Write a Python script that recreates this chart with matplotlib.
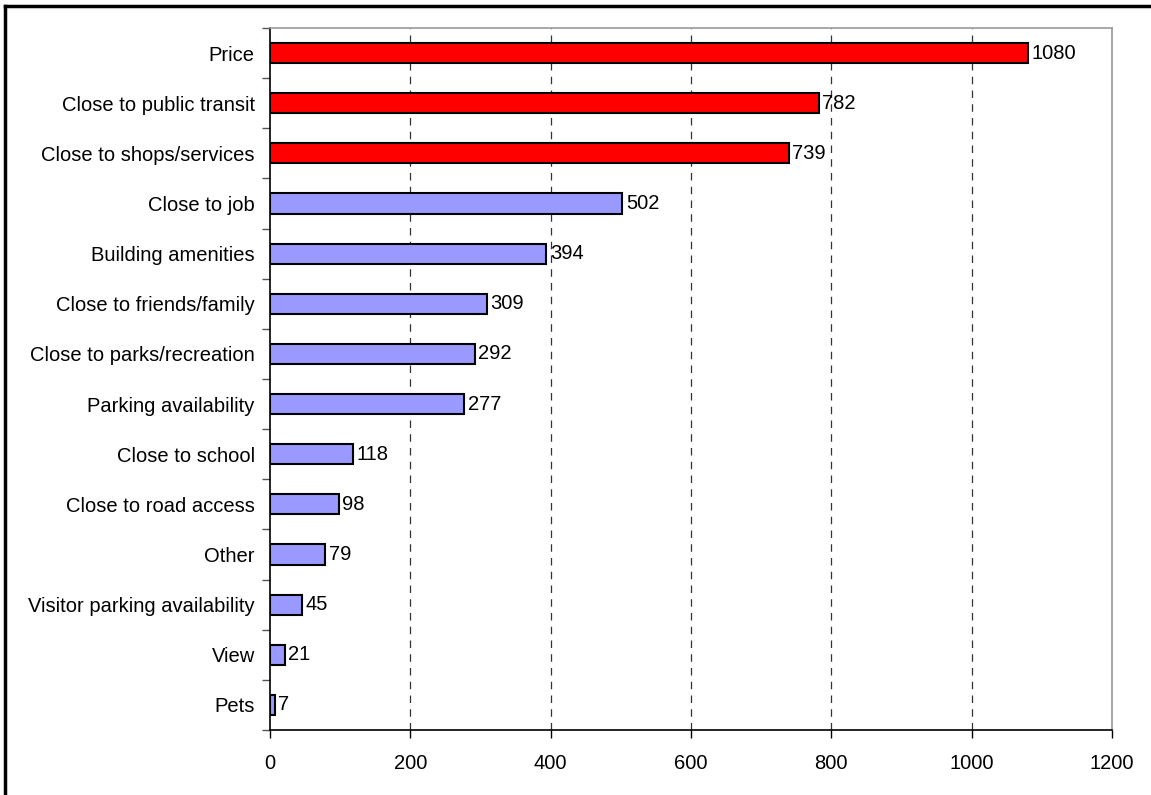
import numpy as np
import matplotlib.pyplot as plt
from matplotlib.lines import Line2D

plt.rcParams['font.family'] = ['Liberation Sans', 'DejaVu Sans']

# 数据
categories = ["Price", "Close to public transit", "Close to shops/services",
              "Close to job", "Building amenities", "Close to friends/family",
              "Close to parks/recreation", "Parking availability",
              "Close to school", "Close to road access", "Other",
              "Visitor parking availability", "View", "Pets"]
counts = [1080, 782, 739, 502, 394, 309, 292, 277, 118, 98, 79, 45, 21, 7]
n_highlight = 3

fig = plt.figure(figsize=(11.51, 7.95), dpi=100)
ax = fig.add_axes([0.2346, 0.0818, 0.9661 - 0.2346, 0.9648 - 0.0818])

y = np.arange(len(categories))
colors = ['#FF0000' if i < n_highlight else '#9999FF' for i in range(len(categories))]
ax.barh(y, counts, height=0.4, color=colors, edgecolor='black', linewidth=1.5, zorder=3)

for yi, v in zip(y, counts):
    ax.text(v + 5, yi, str(v), va='center', ha='left', fontsize=14.5, color='black', zorder=4)

ax.set_xlim(0, 1200)
ax.set_ylim(len(categories) - 0.5, -0.5)
ax.set_xticks(np.arange(0, 1201, 200))
ax.set_yticks(y)
ax.set_yticklabels(categories, fontsize=14.5)
ax.tick_params(axis='y', length=0, pad=11)
ax.set_yticks(np.arange(-0.5, len(categories), 1), minor=True)
ax.tick_params(axis='y', which='minor', length=6, color='#555555', width=1)
ax.tick_params(axis='x', length=6, width=1, labelsize=14.5, pad=11)

for x in range(200, 1200, 200):
    ax.axvline(x, color='#333333', linestyle=(0, (6, 5)), linewidth=0.9, zorder=1)

ax.spines['left'].set_color('black')
ax.spines['bottom'].set_color('black')
ax.spines['left'].set_linewidth(1.2)
ax.spines['bottom'].set_linewidth(1.2)
ax.spines['top'].set_color('#999999')
ax.spines['right'].set_color('#999999')
ax.spines['top'].set_linewidth(1.2)
ax.spines['right'].set_linewidth(1.2)

# 外框（只有上和左）
fig.add_artist(Line2D([5 / 1151, 5 / 1151], [0, 1 - 6 / 795], color='black', linewidth=2.5))
fig.add_artist(Line2D([5 / 1151, 1], [1 - 6 / 795, 1 - 6 / 795], color='black', linewidth=2.5))

fig.savefig("out.png", dpi=100)
